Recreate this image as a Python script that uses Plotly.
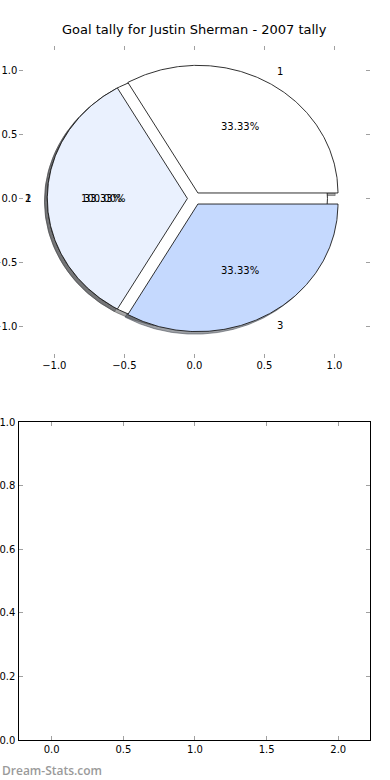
import numpy as np
import plotly.graph_objects as go

# ---- data ----
title_text = "Goal tally for Justin Sherman - 2007 tally"
base_labels = ["1"]
base_values = [1]
slice_labels = ["1", "2", "3"]
slice_values = [1, 1, 1]
base_colors = ["#ffffff"]
slice_colors = ["#ffffff", "#eaf1fe", "#c5d9fe"]
pie_ticks = [-1.0, -0.5, 0.0, 0.5, 1.0]
empty_xticks = [0.0, 0.5, 1.0, 1.5, 2.0]
empty_yticks = [0.0, 0.2, 0.4, 0.6, 0.8, 1.0]
watermark = "Dream-Stats.com"

EXPLODE = 0.05
SHADOW = (-0.02, -0.02)
FONT = "DejaVu Sans"


def hex_rgb(h):
    h = h.lstrip("#")
    return tuple(int(h[i:i + 2], 16) for i in (0, 2, 4))


def build_wedges(values, labels, colors):
    vals = np.asarray(values, dtype=float)
    frac = vals / vals.sum()
    start = 0.0
    out = []
    for f, lab, col in zip(frac, labels, colors):
        t1, t2 = start, start + 360.0 * f
        mid = np.deg2rad((t1 + t2) / 2)
        cx, cy = EXPLODE * np.cos(mid), EXPLODE * np.sin(mid)
        th = np.deg2rad(np.linspace(t1, t2, 240))
        ax, ay = cx + np.cos(th), cy + np.sin(th)
        if f >= 0.9999:
            xs, ys = list(ax), list(ay)
        else:
            xs = [cx] + list(ax) + [cx]
            ys = [cy] + list(ay) + [cy]
        out.append(dict(xs=np.array(xs), ys=np.array(ys), color=col, label=lab,
                        pct="%.2f%%" % (100 * f), mid=mid, cx=cx, cy=cy))
        start = t2
    return out


base = build_wedges(base_values, base_labels, base_colors)
main = build_wedges(slice_values, slice_labels, slice_colors)

fig = go.Figure()

# shadows first (lower zorder)
for w in base + main:
    r, g, b = hex_rgb(w["color"])
    sc = "rgba(%d,%d,%d,0.5)" % (int(0.3 * r), int(0.3 * g), int(0.3 * b))
    fig.add_trace(go.Scatter(x=w["xs"] + SHADOW[0], y=w["ys"] + SHADOW[1], mode="lines",
                             fill="toself", fillcolor=sc, line=dict(color=sc, width=1),
                             hoverinfo="skip", showlegend=False, xaxis="x", yaxis="y"))
for w in base + main:
    fig.add_trace(go.Scatter(x=w["xs"], y=w["ys"], mode="lines", fill="toself",
                             fillcolor=w["color"], line=dict(color="#1a1a1a", width=0.9),
                             hoverinfo="skip", showlegend=False, xaxis="x", yaxis="y"))

annotations = []
for w in base + main:
    lx = w["cx"] + 1.1 * np.cos(w["mid"])
    ly = w["cy"] + 1.1 * np.sin(w["mid"])
    annotations.append(dict(x=lx, y=ly, xref="x", yref="y", text=w["label"], showarrow=False,
                            xanchor="left" if lx > 0 else "right", yanchor="middle",
                            font=dict(family=FONT, size=10, color="#000")))
    px = w["cx"] + 0.6 * np.cos(w["mid"])
    py = w["cy"] + 0.6 * np.sin(w["mid"])
    annotations.append(dict(x=px, y=py, xref="x", yref="y", text=w["pct"], showarrow=False,
                            xanchor="center", yanchor="middle",
                            font=dict(family=FONT, size=10, color="#000")))

annotations.append(dict(x=194.5 / 390, y=1 - 30 / 780, xref="paper", yref="paper",
                        text=title_text, showarrow=False, xanchor="center", yanchor="middle",
                        font=dict(family=FONT, size=13, color="#000")))
annotations.append(dict(x=0.0, y=1 - 770 / 780, xref="paper", yref="paper", text=watermark,
                        showarrow=False, xanchor="left", yanchor="middle",
                        font=dict(family="Open Sans", size=12, color="#9a9a9a", weight=600)))

# invisible trace to activate bottom axes
fig.add_trace(go.Scatter(x=[None], y=[None], xaxis="x2", yaxis="y2", showlegend=False,
                         hoverinfo="skip"))

tick_font = dict(family=FONT, size=10, color="#000")
common = dict(showgrid=False, zeroline=False, ticks="inside", ticklen=4, tickwidth=1,
              tickcolor="#a0a0a0", tickfont=tick_font, tickformat=".1f", automargin=False)
x0d, x1d = 19.3 / 390, 369.5 / 390

fig.update_layout(
    width=390, height=780, margin=dict(l=0, r=0, t=0, b=0, autoexpand=False),
    paper_bgcolor="white", plot_bgcolor="white", showlegend=False,
    xaxis=dict(domain=[x0d, x1d], range=[-1.25, 1.25], tickvals=pie_ticks,
               showline=False, mirror="ticks", anchor="y", **common),
    yaxis=dict(domain=[1 - 358 / 780, 1 - 46 / 780], range=[-1.25, 1.195], tickvals=pie_ticks,
               showline=False, mirror="ticks", anchor="x", ticklabelstandoff=1, **common),
    xaxis2=dict(domain=[x0d, x1d], range=[-0.226, 2.218], tickvals=empty_xticks,
                showline=True, linecolor="#000", linewidth=1, mirror="ticks", anchor="y2", **common),
    yaxis2=dict(domain=[1 - 740 / 780, 1 - 422 / 780], range=[0, 1], tickvals=empty_yticks,
                showline=True, linecolor="#000", linewidth=1, mirror="ticks", anchor="x2",
                ticklabelstandoff=1, **common),
    annotations=annotations,
)

fig.write_html("out.html")
